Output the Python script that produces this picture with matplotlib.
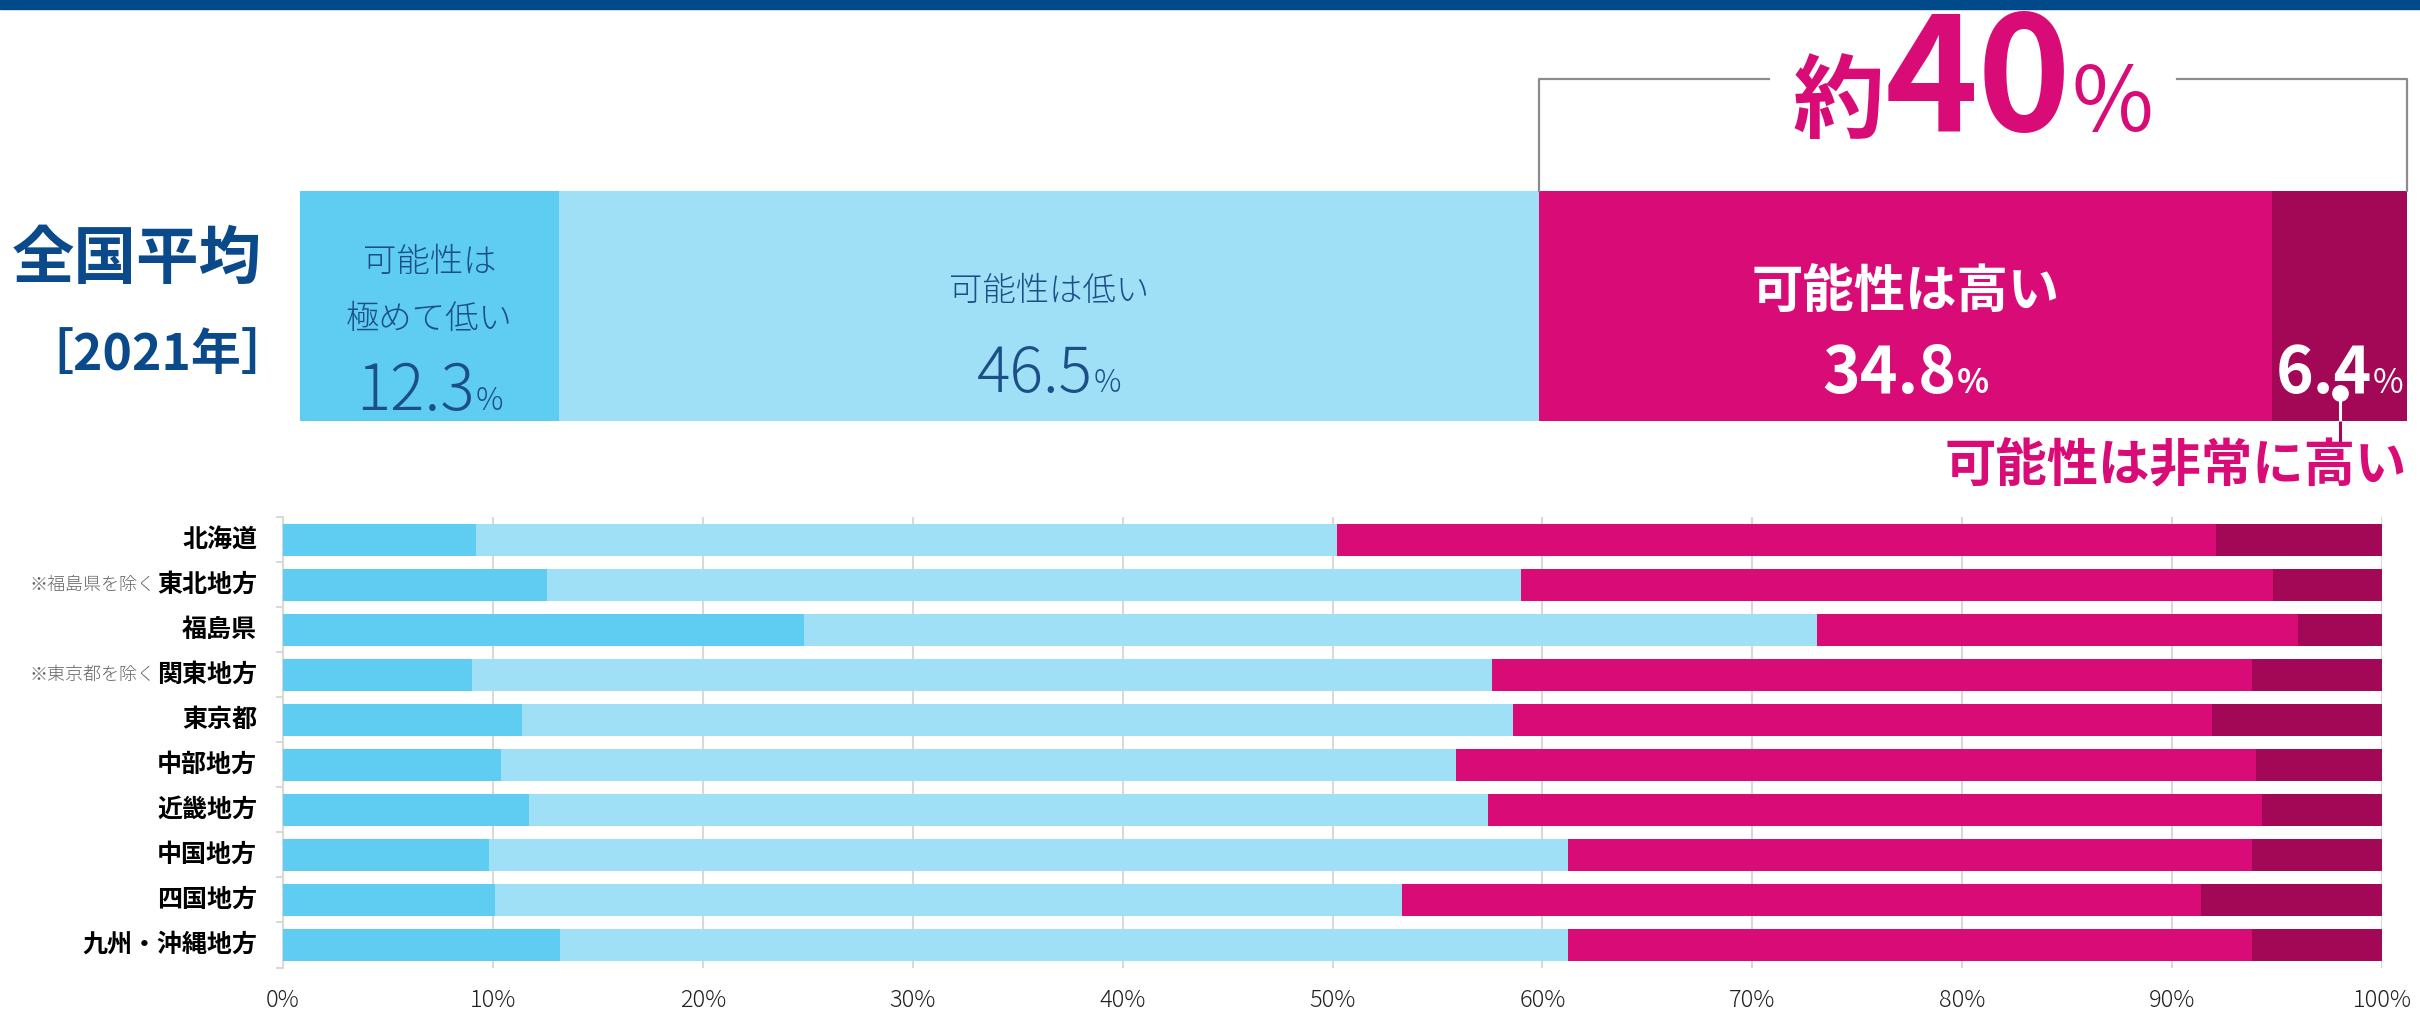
import numpy as np
import matplotlib
matplotlib.use("Agg")
import matplotlib.pyplot as plt
from matplotlib.patches import Rectangle

plt.rcParams['font.family'] = ['Noto Sans CJK JP', 'DejaVu Sans']

# national average (2021)
nat_labels = ['可能性は\n極めて低い', '可能性は低い', '可能性は高い', '可能性は非常に高い']
nat_values = [12.3, 46.5, 34.8, 6.4]

# regions
regions = ['北海道', '東北地方', '福島県', '関東地方', '東京都', '中部地方',
           '近畿地方', '中国地方', '四国地方', '九州・沖縄地方']
notes = ['', '※福島県を除く', '', '※東京都を除く', '', '', '', '', '', '']
very_low = [9.2, 12.6, 24.8, 9.0, 11.4, 10.4, 11.7, 9.8, 10.1, 13.2]
low = [41.0, 46.4, 48.3, 48.6, 47.2, 45.5, 45.7, 51.4, 43.2, 48.0]
high = [41.9, 35.8, 22.9, 36.2, 33.3, 38.1, 36.9, 32.6, 38.1, 32.6]
very_high = [7.9, 5.2, 4.0, 6.2, 8.1, 6.0, 5.7, 6.2, 8.6, 6.2]
xticks = [0, 10, 20, 30, 40, 50, 60, 70, 80, 90, 100]

colors = ['#5FCCF2', '#A0E0F7', '#D90C77', '#A30857']
navy = '#0B4A8A'
label_blue = '#1C4F88'

W, H = 2420, 1013
fig = plt.figure(figsize=(W / 100, H / 100), dpi=100)

# top band
fig.patches.append(Rectangle((0, 1 - 9 / H), 1, 9 / H, transform=fig.transFigure,
                             color='#004A8A', zorder=0))

fig.text(137 / W, 1 - 259 / H, '全国平均', fontsize=45, fontweight='bold',
         color=navy, ha='center', va='center')
fig.text(157 / W, 1 - 355 / H, '［2021年］', fontsize=36, fontweight='bold',
         color=navy, ha='center', va='center')

# ---- national bar
axt = fig.add_axes([300 / W, 1 - 421 / H, 2107 / W, 230 / H])
axt.set_xlim(0, 100)
axt.set_ylim(0, 1)
axt.axis('off')
left = 0
for v, c in zip(nat_values, colors):
    axt.barh(0.5, v, left=left, height=1, color=c, linewidth=0)
    left += v
starts = np.cumsum([0] + nat_values[:-1])
mids = starts + np.array(nat_values) / 2

groups = []


def num_pct(ax, x, y, parts, **kw):
    ts = []
    for s, sz, wt in parts:
        ts.append(ax.annotate(s, (x, y), xytext=(0, 0), textcoords='offset pixels',
                              ha='left', va='baseline', fontsize=sz, fontweight=wt,
                              annotation_clip=False, **kw))
    groups.append(ts)


# very low
axt.text(mids[0], 0.687, '可能性は', ha='center', va='center', fontsize=24,
         color=label_blue, fontweight='light')
axt.text(mids[0], 0.439, '極めて低い', ha='center', va='center', fontsize=24,
         color=label_blue, fontweight='light')
num_pct(axt, mids[0], 0.05, [(f'{nat_values[0]}', 46, 'light'), ('%', 22, 'light')],
        color=label_blue)
# low
axt.text(mids[1], 0.561, nat_labels[1], ha='center', va='center', fontsize=24,
         color=label_blue, fontweight='light')
num_pct(axt, mids[1], 0.126, [(f'{nat_values[1]}', 45, 'light'), ('%', 22, 'light')],
        color=label_blue)
# high
axt.text(mids[2], 0.561, nat_labels[2], ha='center', va='center', fontsize=37,
         color='white', fontweight='bold')
num_pct(axt, mids[2], 0.122, [(f'{nat_values[2]}', 46, 'bold'), ('%', 24, 'bold')],
        color='white')
# very high
num_pct(axt, mids[3], 0.122, [(f'{nat_values[3]}', 46, 'bold'), ('%', 24, 'normal')],
        color='white')
axt.plot([mids[3], mids[3]], [0.122, 0], color='white', lw=2.2, solid_capstyle='butt',
         clip_on=False)
axt.plot([mids[3], mids[3]], [0, -0.096], color=colors[3], lw=2.2,
         solid_capstyle='butt', clip_on=False)
axt.plot([mids[3]], [0.122], 'o', color='white', ms=11, clip_on=False)
axt.text(100, -0.196, nat_labels[3], ha='right', va='center', fontsize=37,
         fontweight='bold', color=colors[2], clip_on=False)

# bracket over high + very high
bx0 = starts[2]
axt.plot([bx0, bx0, 69.7], [1, 1.487, 1.487], color='#8C8C8C', lw=1.6, clip_on=False)
axt.plot([89.1, 100, 100], [1.487, 1.487, 1], color='#8C8C8C', lw=1.6, clip_on=False)
big = round(nat_values[2] + nat_values[3], -1)
num_pct(axt, (69.7 + 89.1) / 2, 1.262,
        [('約', 66, 'bold'), (f'{big:.0f}', 114, 'bold'), ('%', 64, 'normal')],
        color=colors[2])

# ---- regional bars
ax = fig.add_axes([283 / W, 1 - 967.5 / H, 2099 / W, 450.5 / H])
y = np.arange(len(regions))
left = np.zeros(len(regions))
for vals, c in zip([very_low, low, high, very_high], colors):
    ax.barh(y, vals, left=left, height=0.71, color=c, linewidth=0, zorder=3)
    left += np.array(vals)
ax.set_xlim(0, 100)
ax.set_ylim(len(regions) - 0.5, -0.5)
ax.set_xticks(xticks)
ax.set_xticklabels([f'{t}%' for t in xticks], fontsize=17, color='#222222',
                   fontweight='light')
ax.tick_params(axis='x', length=0, pad=15)
ax.grid(axis='x', color='#D9D9D9', lw=1.5, zorder=0)
for s in ['top', 'right', 'bottom']:
    ax.spines[s].set_visible(False)
ax.spines['left'].set_color('#D9D9D9')
ax.spines['left'].set_linewidth(1.5)
ax.set_yticks(np.arange(-0.5, len(regions) + 0.5, 1))
ax.set_yticklabels([])
ax.tick_params(axis='y', length=5, width=1.5, color='#D9D9D9', direction='out')

for i, (r, n) in enumerate(zip(regions, notes)):
    t = ax.text(-26 / 2099, i, r, transform=ax.get_yaxis_transform(), ha='right',
                va='center', fontsize=18, fontweight='bold', color='black')
    if n:
        ax.annotate(n, xy=(0, 0.5), xycoords=t, xytext=(-1, 0),
                    textcoords='offset points', ha='right', va='center',
                    fontsize=13, color='#666666', fontweight='light')

# center the number + % groups
fig.canvas.draw()
r = fig.canvas.get_renderer()
for ts in groups:
    ws = [t.get_window_extent(r).width for t in ts]
    x = -sum(ws) / 2
    for t, w in zip(ts, ws):
        t.xyann = (x, 0)
        x += w

fig.savefig('out.png', dpi=100)
